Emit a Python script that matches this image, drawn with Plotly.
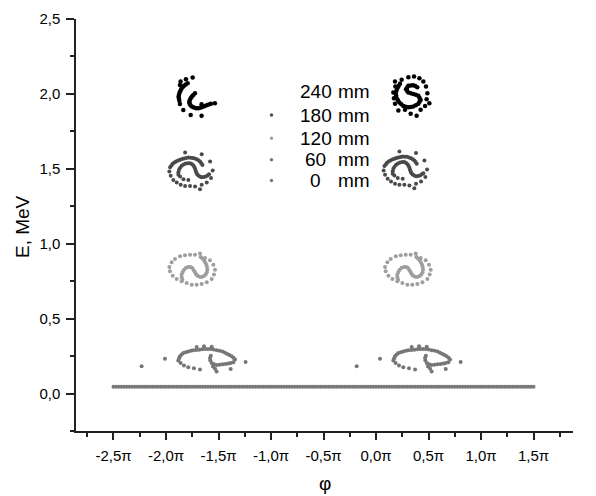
import plotly.graph_objects as go

# ---------------- data (phase in units of pi, energy in MeV) ----------------
# 0 mm: initial uniformly filled beam
phi_0mm = [
    -2.5, -2.475, -2.45, -2.425, -2.4, -2.375, -2.35, -2.325, -2.3, -2.275,
    -2.25, -2.225, -2.2, -2.175, -2.15, -2.125, -2.1, -2.075, -2.05, -2.025,
    -2.0, -1.975, -1.95, -1.925, -1.9, -1.875, -1.85, -1.825, -1.8, -1.775,
    -1.75, -1.725, -1.7, -1.675, -1.65, -1.625, -1.6, -1.575, -1.55, -1.525,
    -1.5, -1.475, -1.45, -1.425, -1.4, -1.375, -1.35, -1.325, -1.3, -1.275,
    -1.25, -1.225, -1.2, -1.175, -1.15, -1.125, -1.1, -1.075, -1.05, -1.025,
    -1.0, -0.975, -0.95, -0.925, -0.9, -0.875, -0.85, -0.825, -0.8, -0.775,
    -0.75, -0.725, -0.7, -0.675, -0.65, -0.625, -0.6, -0.575, -0.55, -0.525,
    -0.5, -0.475, -0.45, -0.425, -0.4, -0.375, -0.35, -0.325, -0.3, -0.275,
    -0.25, -0.225, -0.2, -0.175, -0.15, -0.125, -0.1, -0.075, -0.05, -0.025,
    0.0, 0.025, 0.05, 0.075, 0.1, 0.125, 0.15, 0.175, 0.2, 0.225,
    0.25, 0.275, 0.3, 0.325, 0.35, 0.375, 0.4, 0.425, 0.45, 0.475,
    0.5, 0.525, 0.55, 0.575, 0.6, 0.625, 0.65, 0.675, 0.7, 0.725,
    0.75, 0.775, 0.8, 0.825, 0.85, 0.875, 0.9, 0.925, 0.95, 0.975,
    1.0, 1.025, 1.05, 1.075, 1.1, 1.125, 1.15, 1.175, 1.2, 1.225,
    1.25, 1.275, 1.3, 1.325, 1.35, 1.375, 1.4, 1.425, 1.45, 1.475, 1.5,
]
E_0mm = [0.045] * len(phi_0mm)

# 60 mm bunch shape (offsets from bunch centre) and bunch centres
b60_dphi = [
    -0.270, -0.262, -0.254, -0.238, -0.222, -0.198, -0.175, -0.150, -0.127, -0.098,
    -0.070, -0.043, -0.016, 0.011, 0.038, 0.066, 0.095, 0.124, 0.152, 0.175,
    0.197, 0.218, 0.238, 0.256, 0.270,
    0.254, 0.230, 0.206, 0.180, 0.152, 0.124, 0.095, 0.070, 0.048, 0.035, 0.032, 0.040,
    0.060, 0.080, 0.095,
    -0.248, -0.216, -0.175, -0.121, -0.063, 0.229,
    -0.095, -0.025, 0.048,
    -0.619, -0.397, 0.371,
]
b60_dE = [
    -0.011, 0.005, 0.018, 0.030, 0.040, 0.045, 0.049, 0.054, 0.058, 0.060,
    0.062, 0.064, 0.067, 0.067, 0.067, 0.063, 0.058, 0.054, 0.049, 0.042,
    0.033, 0.026, 0.018, 0.008, -0.004,
    -0.022, -0.027, -0.031, -0.034, -0.036, -0.038, -0.040, -0.036, -0.027, -0.011, 0.007, 0.022,
    -0.050, -0.065, -0.084,
    -0.027, -0.044, -0.056, -0.062, -0.071, -0.067,
    0.080, 0.085, 0.082,
    -0.049, 0.002, -0.020,
]
b60_centres = [(-1.613, 0.231), (0.435, 0.231)]

# 120 mm
b120_dphi = [
    -0.117, -0.070, -0.022, 0.025, 0.073, 0.121, 0.168, 0.200, 0.216, 0.206,
    0.184, 0.137, 0.089, 0.041, -0.006, -0.054, -0.102, -0.149, -0.187, -0.213,
    -0.219, -0.197, -0.165,
    -0.095, -0.102, -0.102, -0.092, -0.079, -0.060, -0.038, -0.018, 0.000, 0.014,
    0.025, 0.036, 0.048, 0.068, 0.089, 0.110, 0.127, 0.138, 0.143, 0.140,
    0.133, 0.123, 0.111, 0.095, 0.079,
]
b120_dE = [
    0.089, 0.096, 0.100, 0.100, 0.107, 0.078, 0.062, 0.033, 0.000, -0.033,
    -0.062, -0.084, -0.096, -0.100, -0.100, -0.089, -0.078, -0.062, -0.040, -0.011,
    0.018, 0.049, 0.071,
    -0.067, -0.050, -0.033, -0.015, 0.000, 0.012, 0.018, 0.017, 0.011, -0.004,
    -0.018, -0.030, -0.040, -0.047, -0.049, -0.043, -0.033, -0.017, 0.000, 0.017,
    0.033, 0.048, 0.062, 0.074, 0.084,
]
b120_centres = [(-1.749, 0.827), (0.305, 0.827)]

# 180 mm
b180_dphi = [
    -0.063, 0.095, 0.175, 0.200, 0.184, 0.143, 0.095, 0.079, 0.032, -0.016,
    -0.063, -0.105, -0.143, -0.175, -0.200, -0.213, -0.206, -0.181, -0.149, -0.111,
    -0.073, -0.032, 0.010, 0.048, 0.079, 0.102,
    -0.193, -0.165, -0.130, -0.092, -0.052, -0.011, 0.029, 0.064, 0.091,
    -0.127, -0.127, -0.121, -0.110, -0.095, -0.077, -0.057, -0.036, -0.016, 0.001,
    0.016, 0.025, 0.032, 0.038, 0.044, 0.052, 0.063, 0.078, 0.095, 0.114,
    0.133, 0.150, 0.165,
    -0.111, -0.079, -0.032,
]
b180_dE = [
    0.127, 0.116, 0.067, 0.007, -0.044, -0.073, -0.089, -0.118, -0.100, -0.096,
    -0.096, -0.089, -0.073, -0.056, -0.029, 0.000, 0.029, 0.051, 0.067, 0.078,
    0.087, 0.093, 0.091, 0.082, 0.067, 0.044,
    0.040, 0.060, 0.073, 0.083, 0.090, 0.092, 0.087, 0.075, 0.056,
    -0.022, -0.005, 0.011, 0.025, 0.038, 0.047, 0.053, 0.056, 0.056, 0.050,
    0.040, 0.030, 0.018, 0.005, -0.007, -0.018, -0.027, -0.034, -0.038, -0.037,
    -0.033, -0.026, -0.018,
    -0.033, -0.051, -0.056,
]
b180_centres = [(-1.755, 1.482), (0.286, 1.489)]

# 240 mm (left and right bunches differ)
b240L_dphi = [
    -0.121, -0.070, -0.006, -0.127,
    -0.054, -0.072, -0.089, -0.102, -0.114, -0.122, -0.130, -0.136, -0.140, -0.137,
    -0.133, -0.127, -0.095, -0.025, 0.079,
    0.016, 0.000, -0.013, -0.025, -0.034, -0.038, -0.034, -0.025, -0.010, 0.006,
    0.027, 0.048, 0.067, 0.086, 0.106, 0.127, 0.147, 0.168, 0.206, 0.079,
]
b240L_dE = [
    0.100, 0.116, 0.127, 0.078,
    0.089, 0.081, 0.073, 0.062, 0.051, 0.039, 0.027, 0.013, 0.000, -0.013,
    -0.027, -0.049, -0.089, -0.122, -0.127,
    0.022, 0.011, 0.000, -0.011, -0.024, -0.038, -0.050, -0.060, -0.068, -0.073,
    -0.077, -0.078, -0.074, -0.069, -0.064, -0.058, -0.052, -0.047, -0.044, -0.051,
]
b240L_centre = (-1.740, 1.982)

b240R_dphi = [
    -0.149, -0.086, -0.022, 0.032, 0.083, 0.121, 0.146, 0.159, 0.152, 0.178,
    0.137, 0.095, 0.057, 0.000, -0.054, -0.117, -0.149, -0.159, -0.165, -0.146,
    -0.102, -0.115, -0.127, -0.135, -0.143, -0.138, -0.133, -0.121, -0.108, -0.089,
    -0.070, -0.046, -0.022, 0.002, 0.025, 0.049, 0.073, 0.084, 0.095, 0.084,
    0.073, 0.049, 0.025, 0.002, -0.022, -0.033, -0.044, -0.033, -0.022, 0.002,
    0.025, 0.044, 0.063,
]
b240R_dE = [
    0.096, 0.107, 0.124, 0.129, 0.118, 0.096, 0.062, 0.018, -0.022, -0.049,
    -0.067, -0.093, -0.133, -0.120, -0.093, -0.098, -0.053, -0.016, 0.022, 0.062,
    0.080, 0.066, 0.051, 0.034, 0.018, 0.001, -0.016, -0.030, -0.044, -0.056,
    -0.067, -0.072, -0.076, -0.074, -0.071, -0.062, -0.053, -0.040, -0.027, -0.013,
    0.000, 0.007, 0.013, 0.018, 0.022, 0.033, 0.044, 0.056, 0.067, 0.069,
    0.071, 0.065, 0.058,
]
b240R_centre = (0.330, 1.987)

# legend (distance labels)
legend_numbers = ["240", "180", "120", "60", "0"]
legend_unit = "mm"
colors = {"240": "#000000", "180": "#4a4a4a", "120": "#9e9e9e",
          "60": "#767676", "0": "#7a7a7a"}

x_tickvals = [-2.5, -2.0, -1.5, -1.0, -0.5, 0.0, 0.5, 1.0, 1.5]
x_ticktext = ["-2,5π", "-2,0π", "-1,5π", "-1,0π", "-0,5π", "0,0π", "0,5π", "1,0π", "1,5π"]
x_minorvals = [-2.75, -2.25, -1.75, -1.25, -0.75, -0.25, 0.25, 0.75, 1.25, 1.75]
y_tickvals = [0.0, 0.5, 1.0, 1.5, 2.0, 2.5]
y_ticktext = ["0,0", "0,5", "1,0", "1,5", "2,0", "2,5"]
y_minorvals = [-0.25, 0.25, 0.75, 1.25, 1.75, 2.25]
x_title = "φ"
y_title = "E, MeV"


def place(dphi, dE, centres):
    xs, ys = [], []
    for cx, cy in centres:
        xs += [cx + d for d in dphi]
        ys += [cy + d for d in dE]
    return xs, ys


fig = go.Figure()

def add_points(x, y, color, size, name):
    fig.add_trace(go.Scatter(x=x, y=y, mode="markers", showlegend=False, name=name,
                             marker=dict(color=color, size=size, line=dict(width=0)),
                             hoverinfo="skip"))

add_points(phi_0mm, E_0mm, colors["0"], 4, "0 mm")
x60, y60 = place(b60_dphi, b60_dE, b60_centres)
add_points(x60, y60, colors["60"], 4, "60 mm")
x120, y120 = place(b120_dphi, b120_dE, b120_centres)
add_points(x120, y120, colors["120"], 4, "120 mm")
x180, y180 = place(b180_dphi, b180_dE, b180_centres)
add_points(x180, y180, colors["180"], 4, "180 mm")
xl, yl = place(b240L_dphi, b240L_dE, [b240L_centre])
xr, yr = place(b240R_dphi, b240R_dE, [b240R_centre])
add_points(xl + xr, yl + yr, colors["240"], 4.5, "240 mm")

font_family = "Liberation Sans, Arial, sans-serif"

# hand-placed legend and axis titles (paper coordinates of the plot area)
PL, PW, PT, PH = 76, 497, 19, 412
def px2paper(px, py):
    return (px - PL) / PW, (PT + PH - py) / PH

row_py = [91.7, 115.0, 138.3, 159.8, 180.5]
annotations = []
shapes = []
for i, num in enumerate(legend_numbers):
    xn, yn = px2paper(315.5, row_py[i])
    xm, _ = px2paper(335.5, row_py[i])
    annotations.append(dict(xref="paper", yref="paper", x=xn, y=yn, text=num,
                            showarrow=False, xanchor="center", yanchor="middle",
                            font=dict(size=19, family=font_family, color="black")))
    annotations.append(dict(xref="paper", yref="paper", x=xm, y=yn, text=legend_unit,
                            showarrow=False, xanchor="left", yanchor="middle",
                            font=dict(size=19, family=font_family, color="black")))
    if num != "240":
        xs, ys = px2paper(271.5, row_py[i])
        shapes.append(dict(type="circle", xref="paper", yref="paper",
                           xsizemode="pixel", ysizemode="pixel",
                           xanchor=xs, yanchor=ys, x0=-1.7, x1=1.7, y0=-1.7, y1=1.7,
                           fillcolor=colors[num], line=dict(width=0)))

tx, ty = px2paper(324.5, 495)
annotations.append(dict(xref="paper", yref="paper", x=tx, y=ty, text=x_title,
                        showarrow=False, xanchor="center", yanchor="bottom",
                        borderpad=0,
                        font=dict(size=19, family=font_family, color="black")))
tx, ty = px2paper(22, 227)
annotations.append(dict(xref="paper", yref="paper", x=tx, y=ty, text=y_title,
                        showarrow=False, xanchor="center", yanchor="middle", textangle=-90,
                        font=dict(size=19, family=font_family, color="black")))

tick_font = dict(size=15, family=font_family, color="black")
fig.update_layout(
    width=596, height=496,
    margin=dict(l=76, r=23, t=19, b=65),
    paper_bgcolor="white", plot_bgcolor="white",
    font=dict(family=font_family, size=15, color="black"),
    showlegend=False,
    annotations=annotations,
    shapes=shapes,
    xaxis=dict(range=[-2.857, 1.876], showgrid=False, zeroline=False, automargin=False,
               showline=True, linecolor="#222", linewidth=1.5,
               ticks="outside", ticklen=7, tickwidth=1.5, tickcolor="#222",
               tickmode="array", tickvals=x_tickvals, ticktext=x_ticktext,
               tickfont=tick_font, ticklabelstandoff=3,
               minor=dict(tickmode="array", tickvals=x_minorvals, ticks="outside",
                          ticklen=4, tickwidth=1.5, tickcolor="#222", showgrid=False)),
    yaxis=dict(range=[-0.25, 2.5], showgrid=False, zeroline=False, automargin=False,
               showline=True, linecolor="#222", linewidth=1.5,
               ticks="outside", ticklen=8, tickwidth=1.5, tickcolor="#222",
               tickmode="array", tickvals=y_tickvals, ticktext=y_ticktext,
               tickfont=tick_font, ticklabelstandoff=3,
               minor=dict(tickmode="array", tickvals=y_minorvals, ticks="outside",
                          ticklen=4, tickwidth=1.5, tickcolor="#222", showgrid=False)),
)

fig.write_html("out.html")
